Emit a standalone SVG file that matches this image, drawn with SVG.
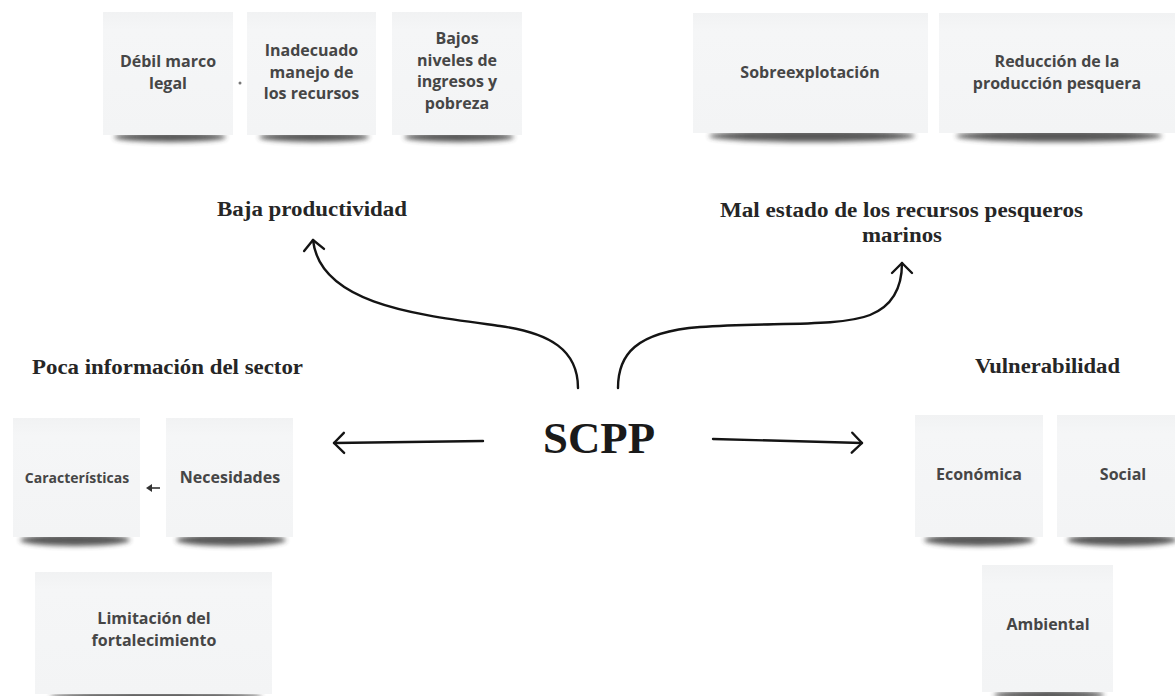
<svg xmlns="http://www.w3.org/2000/svg" width="1175" height="696" viewBox="0 0 1175 696">
<defs>
<style>
.card{fill:url(#cg)}
.shd{fill:#3a3a3a;opacity:0.85;filter:url(#blur)}
.ct{font-family:"Open Sans","DejaVu Sans",sans-serif;font-weight:bold;font-size:16px;fill:#464646;text-anchor:middle}
.hd{font-family:"Liberation Serif","Times New Roman",serif;font-weight:bold;font-size:20px;fill:#262626}
.conn{fill:none;stroke:#141414;stroke-width:2.4;stroke-linecap:round}
</style>
<linearGradient id="cg" x1="0" y1="0" x2="0" y2="1">
<stop offset="0" stop-color="#f1f2f3"/>
<stop offset="0.15" stop-color="#f5f6f7"/>
<stop offset="1" stop-color="#f3f4f5"/>
</linearGradient>
<filter id="blur" x="-20%" y="-150%" width="140%" height="400%">
<feGaussianBlur stdDeviation="2.8"/>
</filter>
<marker id="chev" markerUnits="userSpaceOnUse" markerWidth="26" markerHeight="26" refX="12" refY="11" orient="auto" overflow="visible">
<path d="M2,1 L12,11 L2,21" fill="none" stroke="#141414" stroke-width="2.4" stroke-linecap="round" stroke-linejoin="round"/>
</marker>
</defs>
<rect x="0" y="0" width="1175" height="696" fill="#ffffff"/>

<g id="card-debil">
<ellipse class="shd" cx="170" cy="137" rx="56" ry="5"/>
<rect class="card" x="103" y="12" width="130" height="123"/>
<text class="ct" x="168" y="67">Débil marco</text>
<text class="ct" x="168" y="88.5">legal</text>
</g>
<g id="dot"><circle cx="240" cy="83" r="1.5" fill="#777"/></g>
<g id="card-inadecuado">
<ellipse class="shd" cx="314" cy="137" rx="55" ry="5"/>
<rect class="card" x="247" y="12" width="129" height="123"/>
<text class="ct" x="311.5" y="56">Inadecuado</text>
<text class="ct" x="311.5" y="77.5">manejo de</text>
<text class="ct" x="311.5" y="99">los recursos</text>
</g>
<g id="card-bajos">
<ellipse class="shd" cx="459" cy="137" rx="55" ry="5"/>
<rect class="card" x="392" y="12" width="130" height="123"/>
<text class="ct" x="457" y="44">Bajos</text>
<text class="ct" x="457" y="65.5">niveles de</text>
<text class="ct" x="457" y="87">ingresos y</text>
<text class="ct" x="457" y="108.5">pobreza</text>
</g>

<g id="card-sobre">
<ellipse class="shd" cx="812" cy="136" rx="103" ry="6"/>
<rect class="card" x="693" y="13" width="235" height="120"/>
<text class="ct" x="810" y="78">Sobreexplotación</text>
</g>
<g id="card-reduccion">
<ellipse class="shd" cx="1059" cy="136" rx="103" ry="6"/>
<rect class="card" x="939" y="13" width="236" height="120"/>
<text class="ct" x="1057" y="67">Reducción de la</text>
<text class="ct" x="1057" y="88.5">producción pesquera</text>
</g>

<g id="h-baja"><text class="hd" x="217" y="216" textLength="190" lengthAdjust="spacingAndGlyphs">Baja productividad</text></g>
<g id="h-mal">
<text class="hd" x="720" y="217" textLength="363" lengthAdjust="spacingAndGlyphs">Mal estado de los recursos pesqueros</text>
<text class="hd" x="862" y="242" textLength="80" lengthAdjust="spacingAndGlyphs">marinos</text>
</g>
<g id="h-poca"><text class="hd" x="32" y="374" textLength="271" lengthAdjust="spacingAndGlyphs">Poca información del sector</text></g>
<g id="h-vuln"><text class="hd" x="975" y="373" textLength="145" lengthAdjust="spacingAndGlyphs">Vulnerabilidad</text></g>

<g id="scpp"><text x="543" y="453" font-family="'Liberation Serif','Times New Roman',serif" font-weight="bold" font-size="45" fill="#1a1a1a" textLength="112" lengthAdjust="spacingAndGlyphs">SCPP</text></g>

<g id="card-caracteristicas">
<ellipse class="shd" cx="75" cy="540" rx="55" ry="6"/>
<rect class="card" x="13" y="418" width="127" height="119"/>
<text class="ct" x="77" y="483" style="font-size:14px">Características</text>
</g>
<g id="card-necesidades">
<ellipse class="shd" cx="231" cy="540" rx="55" ry="6"/>
<rect class="card" x="166" y="418" width="127" height="119"/>
<text class="ct" x="230" y="483">Necesidades</text>
</g>
<g id="small-arrow">
<path d="M160,488 L151,488" stroke="#333" stroke-width="1.6" fill="none"/>
<path d="M146,488 L152,484 L152,492 Z" fill="#333"/>
</g>
<g id="card-limitacion">
<ellipse class="shd" cx="156" cy="697" rx="106" ry="5"/>
<rect class="card" x="35" y="572" width="237" height="122"/>
<text class="ct" x="154" y="624">Limitación del</text>
<text class="ct" x="154" y="645.5">fortalecimiento</text>
</g>

<g id="card-economica">
<ellipse class="shd" cx="979" cy="540" rx="55" ry="6"/>
<rect class="card" x="915" y="415" width="128" height="122"/>
<text class="ct" x="979" y="480">Económica</text>
</g>
<g id="card-social">
<ellipse class="shd" cx="1122" cy="540" rx="55" ry="6"/>
<rect class="card" x="1057" y="415" width="133" height="122"/>
<text class="ct" x="1123" y="480">Social</text>
</g>
<g id="card-ambiental">
<ellipse class="shd" cx="1049" cy="695" rx="55" ry="5"/>
<rect class="card" x="982" y="565" width="131" height="127"/>
<text class="ct" x="1048" y="630">Ambiental</text>
</g>

<g id="connectors">
<path class="conn" marker-end="url(#chev)" d="M578,388 C578,350 550,333 500,326 C420,315 320,305 313,240"/>
<path class="conn" marker-end="url(#chev)" d="M618,388 C618,355 635,332 700,327 C770,322 840,327 870,315 C895,305 902,285 902,263"/>
<path class="conn" marker-end="url(#chev)" d="M483,441 L334,443"/>
<path class="conn" marker-end="url(#chev)" d="M713,439 L862,443"/>
</g>
</svg>
